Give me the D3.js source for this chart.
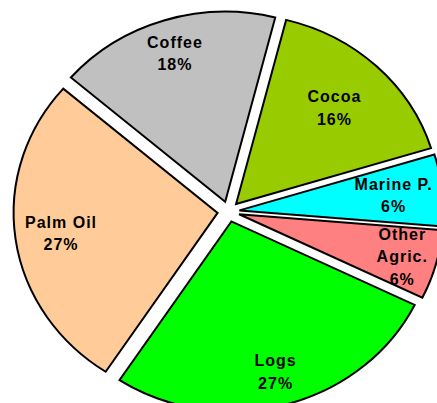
<!DOCTYPE html>
<html>
<head>
<meta charset="utf-8">
<script src="https://cdn.jsdelivr.net/npm/d3@7"></script>
<style>
	body { margin: 0; background: #fff; overflow: hidden; }
	svg { display: block; }
</style>
</head>
<body>
<script>
// slices, clockwise from the top right
let categories = ['Cocoa', 'Marine P.', 'Other Agric.', 'Logs', 'Palm Oil', 'Coffee']
let labelLines = [['Cocoa'], ['Marine P.'], ['Other', 'Agric.'], ['Logs'], ['Palm Oil'], ['Coffee']]
let values = [16.3, 6.1, 5.9, 27.0, 27.1, 17.6]
let colors = ['#99cc00', '#00ffff', '#ff8080', '#00ff00', '#ffcc99', '#c0c0c0']

let width = 437, height = 403
let cx = 228.5, cy = 211.5
let rx = 204, ry = 190		// the pie is a little squashed
let explode = 11
let startDeg = 14.2
// how far out the label sits, as a part of the radius
let labelFrac = [0.70, 0.76, 0.83, 0.82, 0.775, 0.82]

let svg = d3.select('body').append('svg')
	.attr('width', width).attr('height', height)

let pie = d3.pie().sort(null)
	.startAngle(startDeg * Math.PI/180)
	.endAngle((startDeg + 360) * Math.PI/180)
let arcs = pie(values)

let arc = d3.arc().innerRadius(0).outerRadius(rx)

let g = svg.append('g')
	.attr('transform', `translate(${cx},${cy}) scale(1,${ry/rx})`)

g.selectAll('path')
	.data(arcs)
	.enter().append('path')
	.attr('transform', function(d) {
		let mid = (d.startAngle + d.endAngle)/2
		return `translate(${explode*Math.sin(mid)},${-explode*Math.cos(mid)})`
	})
	.attr('d', arc)
	.attr('fill', (d, i) => colors[i])
	.attr('stroke', 'black')
	.attr('stroke-width', 2)
	.attr('stroke-linejoin', 'miter')
	.attr('vector-effect', 'non-scaling-stroke')

let lineH = 22.5
let labels = svg.append('g')
	.attr('font-family', 'Arial, "Liberation Sans", sans-serif')
	.attr('font-weight', 'bold')
	.attr('font-size', 16)
	.attr('letter-spacing', 1)
	.attr('text-anchor', 'middle')
	.attr('fill', 'black')

arcs.forEach(function(d, i) {
	let mid = (d.startAngle + d.endAngle)/2
	let r = explode + labelFrac[i]*rx
	let lx = cx + r*Math.sin(mid)
	let ly = cy - r*Math.cos(mid)*ry/rx
	let lines = labelLines[i].concat([Math.round(values[i]) + '%'])
	let y0 = ly - (lines.length-1)*lineH/2 + 5.8
	let t = labels.append('text').attr('x', lx).attr('y', y0)
	lines.forEach(function(s, j) {
		t.append('tspan').attr('x', lx).attr('y', y0 + j*lineH).text(s)
	})
})
</script>
</body>
</html>
